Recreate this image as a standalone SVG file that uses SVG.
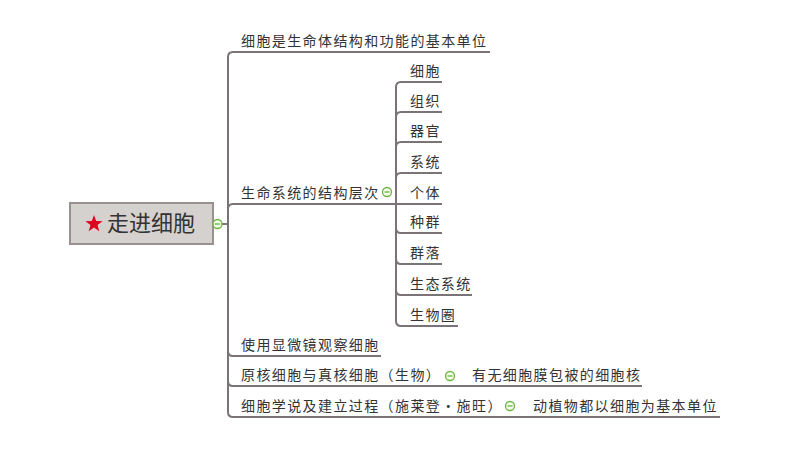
<svg xmlns="http://www.w3.org/2000/svg" width="800" height="452" viewBox="0 0 800 452">
<style>
.t{font-family:"Noto Sans CJK SC","Noto Sans",sans-serif;font-size:14px;letter-spacing:1.4px;fill:#333}
.c{fill:none;stroke:#7a7378;stroke-width:2}
.col circle{fill:#f2fbe9;stroke:#6db33f;stroke-width:1.3}
.col line{stroke:#6db33f;stroke-width:1.3}
</style>
<rect width="800" height="452" fill="#fff"/>
<g id="connectors">
<path class="c" d="M222 224 H228"/>
<path class="c" d="M228 224 V57 Q228 52 233 52 H490"/>
<path class="c" d="M228 224 V209 Q228 204 233 204 H396"/>
<path class="c" d="M228 224 V351 Q228 356 233 356 H381"/>
<path class="c" d="M228 224 V381 Q228 386 233 386 H462"/>
<path class="c" d="M228 224 V412 Q228 417 233 417 H525"/>
<path class="c" d="M396 204 V87 Q396 82 401 82 H442"/>
<path class="c" d="M396 204 V117 Q396 112 401 112 H442"/>
<path class="c" d="M396 204 V147 Q396 142 401 142 H442"/>
<path class="c" d="M396 204 V178 Q396 173 401 173 H442"/>
<path class="c" d="M396 204 H442"/>
<path class="c" d="M396 204 V228 Q396 233 401 233 H442"/>
<path class="c" d="M396 204 V259 Q396 264 401 264 H442"/>
<path class="c" d="M396 204 V290 Q396 295 401 295 H472"/>
<path class="c" d="M396 204 V321 Q396 326 401 326 H458"/>
<path class="c" d="M462 386 H642"/>
<path class="c" d="M525 417 H720"/>
</g>
<g id="root">
<rect x="70" y="203" width="143" height="41" fill="#d5d1ce" stroke="#99918f" stroke-width="2"/>
<polygon points="94,215 96.1,221.1 102.6,221.2 97.5,225.1 99.3,231.3 94,227.6 88.7,231.3 90.5,225.1 85.4,221.2 91.9,221.1" fill="#e0001b"/>
<text x="107" y="231" style="font-family:'Noto Sans CJK SC','Noto Sans',sans-serif;font-size:22px;fill:#333">走进细胞</text>
<g class="col"><circle cx="217.5" cy="224" r="4.5"/><line x1="215" y1="224" x2="220" y2="224"/></g>
</g>
<g id="n1"><text class="t" x="241" y="46">细胞是生命体结构和功能的基本单位</text></g>
<g id="n2"><text class="t" x="241" y="198">生命系统的结构层次</text>
<g class="col"><circle cx="387" cy="192" r="4.5"/><line x1="384.5" y1="192" x2="389.5" y2="192"/></g></g>
<g id="n2a"><text class="t" x="410" y="76">细胞</text></g>
<g id="n2b"><text class="t" x="410" y="106">组织</text></g>
<g id="n2c"><text class="t" x="410" y="136">器官</text></g>
<g id="n2d"><text class="t" x="410" y="167">系统</text></g>
<g id="n2e"><text class="t" x="410" y="198">个体</text></g>
<g id="n2f"><text class="t" x="410" y="227">种群</text></g>
<g id="n2g"><text class="t" x="410" y="258">群落</text></g>
<g id="n2h"><text class="t" x="410" y="289">生态系统</text></g>
<g id="n2i"><text class="t" x="410" y="320">生物圈</text></g>
<g id="n3"><text class="t" x="241" y="350">使用显微镜观察细胞</text></g>
<g id="n4"><text class="t" x="241" y="380">原核细胞与真核细胞（生物）</text>
<g class="col"><circle cx="450" cy="376" r="4.5"/><line x1="447.5" y1="376" x2="452.5" y2="376"/></g></g>
<g id="n4a"><text class="t" x="472" y="380">有无细胞膜包被的细胞核</text></g>
<g id="n5"><text class="t" x="241" y="411">细胞学说及建立过程（施莱登・施旺）</text>
<g class="col"><circle cx="510" cy="406" r="4.5"/><line x1="507.5" y1="406" x2="512.5" y2="406"/></g></g>
<g id="n5a"><text class="t" x="533" y="411">动植物都以细胞为基本单位</text></g>
</svg>
